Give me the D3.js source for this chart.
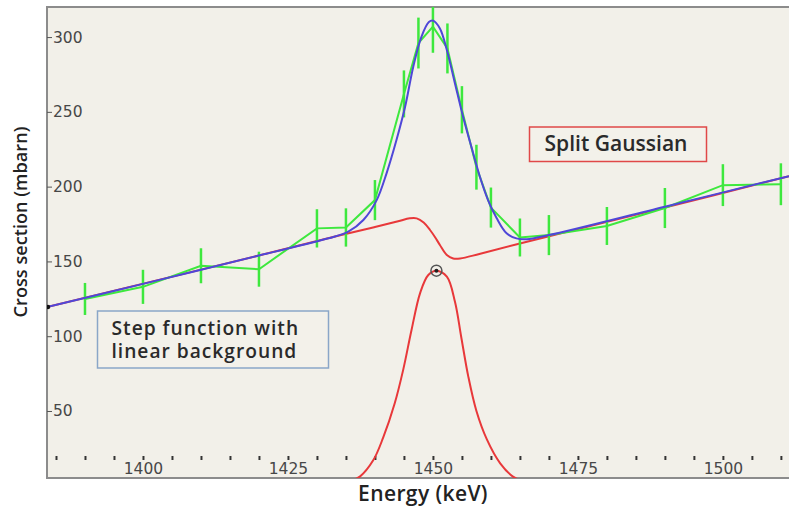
<!DOCTYPE html>
<html>
<head>
<meta charset="utf-8">
<script src="https://cdn.jsdelivr.net/npm/d3@7"></script>
<style>
  html, body { margin: 0; padding: 0; background: #ffffff; }
  svg { display: block; }
</style>
</head>
<body>
<svg id="chart"></svg>
<script>
// measured points with error bars (energy keV, cross section mbarn)
const energies = [1390, 1400, 1410, 1420, 1430, 1435, 1440, 1445, 1447.5, 1450, 1452.5, 1455, 1457.5, 1460, 1465, 1470, 1480, 1490, 1500, 1510];
const sigma = [124.9, 133, 147.1, 144.8, 172.1, 172.7, 191, 262, 296, 307, 292.4, 251.4, 213, 186, 166, 167.6, 173.7, 185.7, 201, 201.6];
const errors = [10.7, 11.4, 11.7, 11.7, 12.8, 12.8, 13.4, 15.7, 17, 17.5, 16.7, 15.8, 15, 13.4, 12.7, 13.4, 12.7, 13.4, 14, 14];

// total fit (blue)
const fitE = [1383.45, 1400, 1420, 1432, 1435.4, 1438, 1440.3, 1442, 1443.7, 1445.2, 1446.6, 1448, 1449.3, 1450, 1451.2, 1452.4, 1453.8, 1455.2, 1456.7, 1458.1, 1459.5, 1461, 1462.7, 1464.4, 1466.2, 1470, 1490, 1511.4];
const fitV = [119.5, 135, 154, 165.5, 169.9, 177.7, 191, 208.9, 231, 253.4, 280, 300, 310, 311, 305.8, 291.3, 269, 246.7, 225.6, 206.6, 191, 178.8, 168.8, 165.4, 164.8, 167.6, 186.6, 207];

// step function with linear background (red)
const stepE = [1383.45, 1420, 1434, 1440, 1444, 1446, 1447.2, 1448.4, 1449.5, 1450.4, 1451.2, 1452.4, 1453.5, 1454.7, 1458, 1465, 1490, 1511.4];
const stepV = [119.5, 154, 167.5, 173, 176.8, 178.8, 178.8, 176, 171, 166, 161, 154.3, 152, 152, 155, 162, 186, 207];

// split gaussian (red, bottom)
const gaussE = [1436.3, 1437.4, 1439.7, 1441.4, 1443.4, 1444.9, 1446.3, 1447.8, 1449.2, 1450.6, 1452.4, 1453.8, 1454.9, 1456.1, 1457.5, 1459.3, 1461.6, 1463.8, 1464.9];
const gaussV = [4, 6.1, 17, 32, 55, 78, 104, 129, 140.9, 143.8, 139.8, 123, 99, 73, 50, 31, 15, 6.1, 4];

const yTicks = [50, 100, 150, 200, 250, 300];
const xMinorTicks = d3.range(1385, 1511, 5);
const xLabelTicks = [1400, 1425, 1450, 1475, 1500];

const width = 789, height = 508;
const plot = { left: 47, top: 7, right: 789, bottom: 478 };
const textFont = "'Open Sans', sans-serif";

const svg = d3.select("#chart").attr("width", width).attr("height", height);

const x = d3.scaleLinear().domain([1383.45, 1511.4]).range([plot.left, plot.right]);
const y = d3.scaleLinear().domain([5.2, 320.1]).range([plot.bottom, plot.top]);

// scale a text's font size so that it spans the width seen in the picture
const fitFont = (sel, target) => {
  const node = sel.node();
  const size = parseFloat(sel.attr("font-size"));
  const len = node.getComputedTextLength();
  if (len > 0) sel.attr("font-size", (size * target / len).toFixed(2));
  return sel;
};

svg.append("defs").append("clipPath").attr("id", "clip")
  .append("rect")
  .attr("x", plot.left).attr("y", plot.top)
  .attr("width", plot.right - plot.left).attr("height", plot.bottom - plot.top);

// plot background
svg.append("rect")
  .attr("x", plot.left).attr("y", plot.top)
  .attr("width", plot.right - plot.left).attr("height", plot.bottom - plot.top)
  .attr("fill", "#f2f0e9");

// frame
svg.append("path")
  .attr("d", `M${plot.right},${plot.top}H${plot.left}V${plot.bottom}H${plot.right}`)
  .attr("fill", "none")
  .attr("stroke", "#8c8c8c")
  .attr("stroke-width", 2);

// y axis, labels inside the frame
const yAxis = svg.append("g")
  .attr("transform", `translate(${plot.left},0)`)
  .call(d3.axisRight(y).tickValues(yTicks).tickSize(5).tickPadding(1));
yAxis.select(".domain").remove();
yAxis.selectAll("line").attr("stroke", "#555");
yAxis.selectAll("text")
  .attr("font-family", "DejaVu Sans")
  .attr("font-size", 15.5)
  .attr("fill", "#474747");

// x axis, small tick marks and labels above bottom frame
const xAxis = svg.append("g")
  .attr("transform", `translate(0,456)`)
  .call(d3.axisBottom(x).tickValues(xMinorTicks).tickSize(4).tickPadding(3)
    .tickFormat((d) => (xLabelTicks.includes(d) ? d : "")));
xAxis.select(".domain").remove();
xAxis.selectAll("line").attr("stroke", "#333").attr("stroke-width", 2);
xAxis.selectAll("text")
  .attr("font-family", "DejaVu Sans")
  .attr("font-size", 15.5)
  .attr("fill", "#474747");

const g = svg.append("g").attr("clip-path", "url(#clip)");

const curve = (xs, ys) => d3.line()
  .x((d, i) => x(xs[i]))
  .y((d, i) => y(ys[i]))
  .curve(d3.curveCatmullRom.alpha(0.5))(xs);

// red step function with background
g.append("path")
  .attr("d", curve(stepE, stepV))
  .attr("fill", "none")
  .attr("stroke", "#e8383a")
  .attr("stroke-width", 2);

// red gaussian
g.append("path")
  .attr("d", curve(gaussE, gaussV))
  .attr("fill", "none")
  .attr("stroke", "#e8383a")
  .attr("stroke-width", 2);

// green data line
g.append("path")
  .attr("d", d3.line().x((d, i) => x(energies[i])).y((d, i) => y(sigma[i]))(energies))
  .attr("fill", "none")
  .attr("stroke", "#3ee83e")
  .attr("stroke-width", 2);

// error bars
g.selectAll(".err")
  .data(energies)
  .join("line")
  .attr("class", "err")
  .attr("x1", (d) => x(d))
  .attr("x2", (d) => x(d))
  .attr("y1", (d, i) => y(sigma[i] - errors[i]))
  .attr("y2", (d, i) => y(sigma[i] + errors[i]))
  .attr("stroke", "#3ee83e")
  .attr("stroke-width", 2.5);

// blue total fit
g.append("path")
  .attr("d", curve(fitE, fitV))
  .attr("fill", "none")
  .attr("stroke", "#4f47d8")
  .attr("stroke-width", 2);

// small marker at the left end of the fit
g.append("circle")
  .attr("cx", x(fitE[0]) + 1).attr("cy", y(fitV[0]))
  .attr("r", 2.2)
  .attr("fill", "#111");

// peak marker of the gaussian
const peakIdx = gaussV.indexOf(d3.max(gaussV));
g.append("circle")
  .attr("cx", x(gaussE[peakIdx])).attr("cy", y(gaussV[peakIdx]))
  .attr("r", 5.5)
  .attr("fill", "none")
  .attr("stroke", "#555")
  .attr("stroke-width", 1.5);
g.append("circle")
  .attr("cx", x(gaussE[peakIdx])).attr("cy", y(gaussV[peakIdx]))
  .attr("r", 2)
  .attr("fill", "#222");

// annotation boxes
const sg = svg.append("g");
sg.append("rect")
  .attr("x", 529.5).attr("y", 127).attr("width", 177).attr("height", 34.5)
  .attr("fill", "#f3f1ea").attr("stroke", "#e04848").attr("stroke-width", 1.5);
sg.append("text")
  .attr("x", 616).attr("y", 150.5)
  .attr("text-anchor", "middle")
  .attr("font-family", textFont)
  .attr("font-weight", 600)
  .attr("font-size", 18)
  .attr("fill", "#2a2a2a")
  .text("Split Gaussian")
  .call(fitFont, 143);

const st = svg.append("g");
st.append("rect")
  .attr("x", 97.5).attr("y", 311).attr("width", 231).attr("height", 57)
  .attr("fill", "#f3f1ea").attr("stroke", "#8aa6c8").attr("stroke-width", 1.5);
st.append("text")
  .attr("x", 111.5).attr("y", 334.5)
  .attr("font-family", textFont)
  .attr("font-weight", 600)
  .attr("font-size", 17)
  .attr("letter-spacing", 1)
  .attr("fill", "#2a2a2a")
  .text("Step function with")
  .call(fitFont, 190);
st.append("text")
  .attr("x", 111.5).attr("y", 358)
  .attr("font-family", textFont)
  .attr("font-weight", 600)
  .attr("font-size", 17)
  .attr("letter-spacing", 1)
  .attr("fill", "#2a2a2a")
  .text("linear background")
  .call(fitFont, 188);

// axis titles
svg.append("text")
  .attr("transform", "translate(27,222) rotate(-90)")
  .attr("text-anchor", "middle")
  .attr("font-family", textFont)
  .attr("font-weight", 600)
  .attr("font-size", 17)
  .attr("fill", "#222")
  .text("Cross section (mbarn)")
  .call(fitFont, 191);

svg.append("text")
  .attr("x", 423).attr("y", 501)
  .attr("text-anchor", "middle")
  .attr("font-family", textFont)
  .attr("font-weight", 600)
  .attr("font-size", 17)
  .attr("letter-spacing", 0.4)
  .attr("fill", "#222")
  .text("Energy (keV)")
  .call(fitFont, 131);
</script>
</body>
</html>
